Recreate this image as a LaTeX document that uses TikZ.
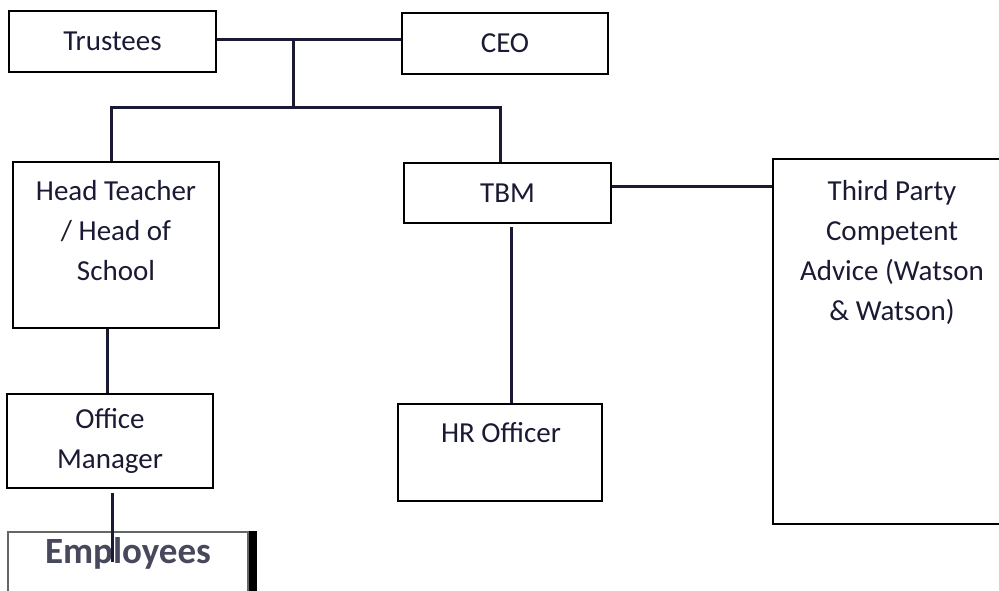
\documentclass[tikz,border=0pt]{standalone}
\usepackage{fontspec}
\setmainfont{Carlito}
\usetikzlibrary{positioning}
\definecolor{ink}{RGB}{26,26,52}
\definecolor{fade}{RGB}{72,72,92}
\begin{document}
\begin{tikzpicture}[x=1pt,y=-1pt,
        box/.style={draw=black, line width=2pt, align=center, text=ink,
            font=\fontsize{29}{40}\selectfont},
        txt/.style={align=center, text=ink, font=\fontsize{29}{40}\selectfont},
        link/.style={draw=ink, line width=3pt}]
        \useasboundingbox (0,0) rectangle (999,591);

        % top row
        \node[box, minimum width=207pt, minimum height=61pt] (trustees) at (112.5,41.5) {Trustees};
        \node[box, minimum width=206pt, minimum height=61pt] (ceo) at (505,43.5) {CEO};

        % second row
        \node[box, minimum width=206pt, minimum height=166pt] (head) at (116,245) {};
        \node[txt] (headtxt) at (116,231) {Head Teacher\\/ Head of\\School};
        \node[box, minimum width=207pt, minimum height=60pt] (tbm) at (507.5,193) {TBM};
        \node[box, minimum width=238pt, minimum height=365pt] (tp) at (892,341.5) {};
        \node[txt] (tptxt) at (892,252) {Third Party\\Competent\\Advice (Watson\\\& Watson)};

        % lower rows
        \node[box, minimum width=206pt, minimum height=94pt] (om) at (110,441) {Office\\Manager};
        \node[box, minimum width=204pt, minimum height=97pt] (hr) at (500,452.5) {};
        \node[txt] (hrtxt) at (501,433) {HR Officer};
        \node[box, draw=black!60, line width=1.5pt, minimum width=240pt, minimum height=80pt] (emp) at (128,572) {};
        \node[anchor=base, text=fade, font=\fontsize{37}{44}\selectfont\bfseries] (emptxt) at (128,563) {Employees};
        \draw[line width=8pt] ([xshift=4.5pt]emp.north east) -- ([xshift=4.5pt]emp.south east);

        % connectors
        \coordinate (jtop) at (293,40);
        \coordinate (jmid) at (293,108);
        \coordinate (jleft) at (111,108);
        \coordinate (jright) at (500,108);
        \coordinate (empend) at (112,562);
        \draw[link] (trustees.east |- jtop) -- (ceo.west |- jtop);
        \draw[link] (jtop) -- (jmid);
        \draw[link] (head.north -| jleft) -- (jleft) -- (jright) -- (tbm.north -| jright);
        \draw[link] (tbm.east |- 0,187) -- (tp.west |- 0,187);
        \draw[link] ([yshift=-3pt]tbm.south -| 511,0) -- (hr.north -| 511,0);
        \draw[link] (head.south -| 107,0) -- (om.north -| 107,0);
        \draw[link] ([yshift=-4pt]om.south -| empend) -- (empend);
\end{tikzpicture}
\end{document}
